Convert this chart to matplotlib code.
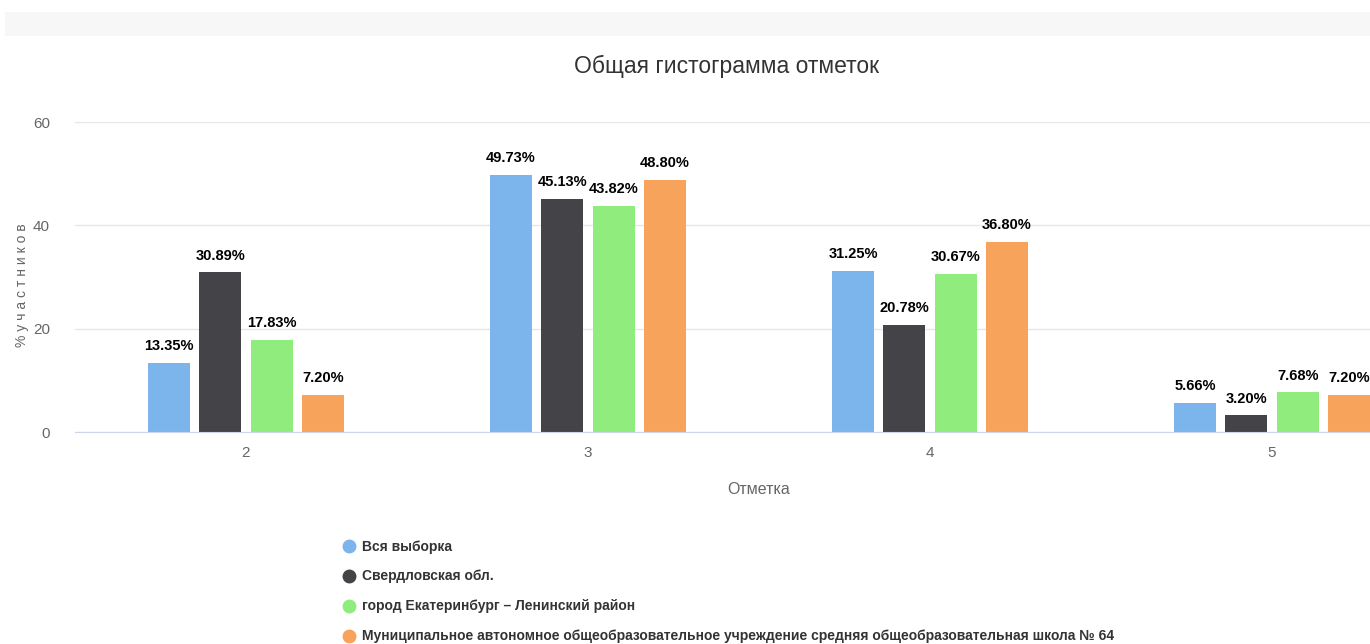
import matplotlib
matplotlib.use("Agg")

import matplotlib.pyplot as plt
import numpy as np

# data
categories = ["2", "3", "4", "5"]
series_names = [
    "Вся выборка",
    "Свердловская обл.",
    "город Екатеринбург – Ленинский район",
    "Муниципальное автономное общеобразовательное учреждение средняя общеобразовательная школа № 64",
]
vse = [13.35, 49.73, 31.25, 5.66]
sverd = [30.89, 45.13, 20.78, 3.20]
ekb = [17.83, 43.82, 30.67, 7.68]
school = [7.20, 48.80, 36.80, 7.20]
colors = ["#7cb5ec", "#434348", "#90ed7d", "#f7a35c"]

plt.rcParams["font.family"] = ["Liberation Sans", "DejaVu Sans"]

W, H = 1370, 644
fig = plt.figure(figsize=(W / 100, H / 100), dpi=100, facecolor="white")

# light band at the top
fig.patches.append(plt.Rectangle((5 / W, 1 - 36 / H), 1, 24 / H, transform=fig.transFigure,
                                 facecolor="#f7f7f7", edgecolor="none"))

# axes runs past the right edge (chart is cropped there)
left_px, right_px = 75, 1443
top_px, bottom_px = 122, 432
ax = fig.add_axes([left_px / W, 1 - bottom_px / H, (right_px - left_px) / W, (bottom_px - top_px) / H])

x = np.arange(len(categories))
step = 0.15
width = 0.123
for i, (vals, c) in enumerate(zip([vse, sverd, ekb, school], colors)):
    pos = x + (i - 1.5) * step
    ax.bar(pos, vals, width=width, color=c, zorder=2, label=series_names[i])
    for p, v in zip(pos, vals):
        ax.annotate(f"{v:.2f}%", (p, v), xytext=(0, 7), textcoords="offset points",
                    ha="center", va="bottom", fontsize=10.5, fontweight="bold", color="#000000")

ax.set_xlim(-0.5, 3.5)
ax.set_ylim(0, 60)
ax.set_yticks([0, 20, 40, 60])
ax.grid(axis="y", color="#e6e6e6", linewidth=1, zorder=0)
ax.set_axisbelow(True)
for s in ["top", "right", "left"]:
    ax.spines[s].set_visible(False)
ax.spines["bottom"].set_color("#ccd6eb")
ax.set_xticks(x)
ax.set_xticklabels(categories)
ax.tick_params(axis="both", length=0, colors="#666666", labelsize=11)
ax.tick_params(axis="x", pad=10)
ax.tick_params(axis="y", pad=18)

ax.set_xlabel("Отметка", color="#666666", fontsize=11.5, labelpad=16)
fig.text(22 / W, 1 - 285 / H, "% у ч а с т н и к о в", rotation=90, ha="center", va="center",
         color="#666666", fontsize=10)

fig.text(727 / W, 1 - 66 / H, "Общая гистограмма отметок", ha="center", va="center",
         color="#333333", fontsize=16.5)

# legend
handles = [plt.Line2D([], [], marker="o", linestyle="none", markersize=9, color=c) for c in colors]
fig.legend(handles, series_names, loc="upper left", bbox_to_anchor=(330 / W, 1 - 527 / H),
           frameon=False, handletextpad=0.4, labelspacing=1.15, handlelength=1.0,
           prop={"size": 10, "weight": "bold"}, labelcolor="#333333")

fig.savefig("out.png", dpi=100, facecolor="white")
